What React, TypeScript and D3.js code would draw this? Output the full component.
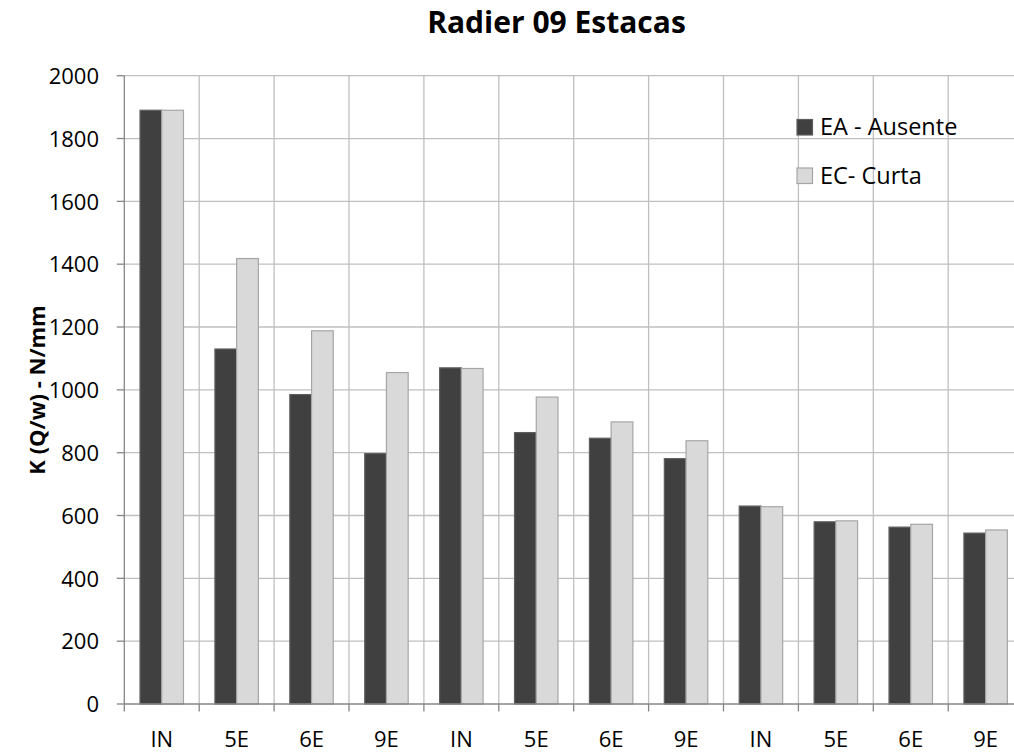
import React from "react";
import * as d3 from "d3";

const categories = ["IN", "5E", "6E", "9E", "IN", "5E", "6E", "9E", "IN", "5E", "6E", "9E"];
const seriesNames = ["EA - Ausente", "EC- Curta"];
const eaValues = [1890, 1130, 985, 797, 1070, 864, 846, 781, 630, 580, 563, 544];
const ecValues = [1890, 1418, 1188, 1055, 1068, 977, 898, 838, 628, 583, 572, 554];
const yTicks = [0, 200, 400, 600, 800, 1000, 1200, 1400, 1600, 1800, 2000];

const W = 1014;
const H = 756;
const FONT = "'Open Sans', sans-serif";

export default function App() {
  const left = 124.3;
  const step = 74.9;
  const right = left + step * categories.length;
  const top = 75.7;
  const bottom = 704;

  const x = d3.scaleBand<number>().domain(categories.map((_, i) => i)).range([left, right]).padding(0);
  const bw = x.bandwidth();
  const xs = d3.scaleBand<string>().domain(["EA", "EC"]).range([0.21 * bw, 0.79 * bw]).padding(0);
  const y = d3.scaleLinear().domain([0, 2000]).range([bottom, top]);

  const gridColor = "#bfbfbf";
  const axisColor = "#868686";
  const series = [
    { key: "EA", values: eaValues, fill: "#404040", stroke: "#5e5e5e" },
    { key: "EC", values: ecValues, fill: "#d9d9d9", stroke: "#a6a6a6" },
  ];

  const boundaries = d3.range(categories.length + 1).map((i) => left + i * bw);

  return (
    <svg width={W} height={H} style={{ position: "absolute", left: 0, top: 0, background: "#fff" }}>
      <rect x={0} y={0} width={W} height={H} fill="#fff" />
      {/* horizontal grid */}
      {yTicks.filter((t) => t > 0).map((t) => (
        <line key={"h" + t} x1={left} x2={right} y1={y(t)} y2={y(t)} stroke={gridColor} strokeWidth={1.3} />
      ))}
      {/* vertical grid */}
      {boundaries.slice(1).map((bx, i) => (
        <line key={"v" + i} x1={bx} x2={bx} y1={top} y2={bottom} stroke={gridColor} strokeWidth={1.3} />
      ))}
      {/* bars */}
      {series.map((s) =>
        s.values.map((v, i) => (
          <rect
            key={s.key + i}
            x={(x(i) as number) + (xs(s.key) as number)}
            y={y(v)}
            width={xs.bandwidth()}
            height={bottom - y(v)}
            fill={s.fill}
            stroke={s.stroke}
            strokeWidth={1.2}
          />
        ))
      )}
      {/* axes */}
      <line x1={left} x2={left} y1={top} y2={bottom} stroke={axisColor} strokeWidth={1.3} />
      <line x1={left} x2={right} y1={bottom} y2={bottom} stroke={axisColor} strokeWidth={1.3} />
      {yTicks.map((t) => (
        <g key={"yt" + t}>
          <line x1={left - 7.5} x2={left} y1={y(t)} y2={y(t)} stroke={axisColor} strokeWidth={1.3} />
          <text x={99} y={y(t) + 8.2} textAnchor="end" fontFamily={FONT} fontSize={22} fill="#000">
            {t}
          </text>
        </g>
      ))}
      {boundaries.map((bx, i) => (
        <line key={"xt" + i} x1={bx} x2={bx} y1={bottom} y2={bottom + 7.5} stroke={axisColor} strokeWidth={1.3} />
      ))}
      {categories.map((c, i) => (
        <text
          key={"xl" + i}
          x={(x(i) as number) + bw / 2}
          y={747}
          textAnchor="middle"
          fontFamily={FONT}
          fontSize={22}
          fill="#000"
        >
          {c}
        </text>
      ))}
      {/* title */}
      <text x={556.5} y={33} textAnchor="middle" fontFamily={FONT} fontWeight="bold" fontSize={30} fill="#000">
        Radier 09 Estacas
      </text>
      {/* y label */}
      <text
        transform={`translate(45, 390) rotate(-90)`}
        textAnchor="middle"
        fontFamily={FONT}
        fontWeight="bold"
        fontSize={22}
        fill="#000"
      >
        K (Q/w) - N/mm
      </text>
      {/* legend */}
      {series.map((s, i) => (
        <g key={"lg" + i} transform={`translate(797, ${119.5 + i * 48.5})`}>
          <rect x={0} y={0} width={15.5} height={15.5} fill={s.fill} stroke={s.stroke} strokeWidth={1.2} />
          <text x={23} y={15.5} fontFamily={FONT} fontSize={23.5} fill="#000">
            {seriesNames[i]}
          </text>
        </g>
      ))}
    </svg>
  );
}
